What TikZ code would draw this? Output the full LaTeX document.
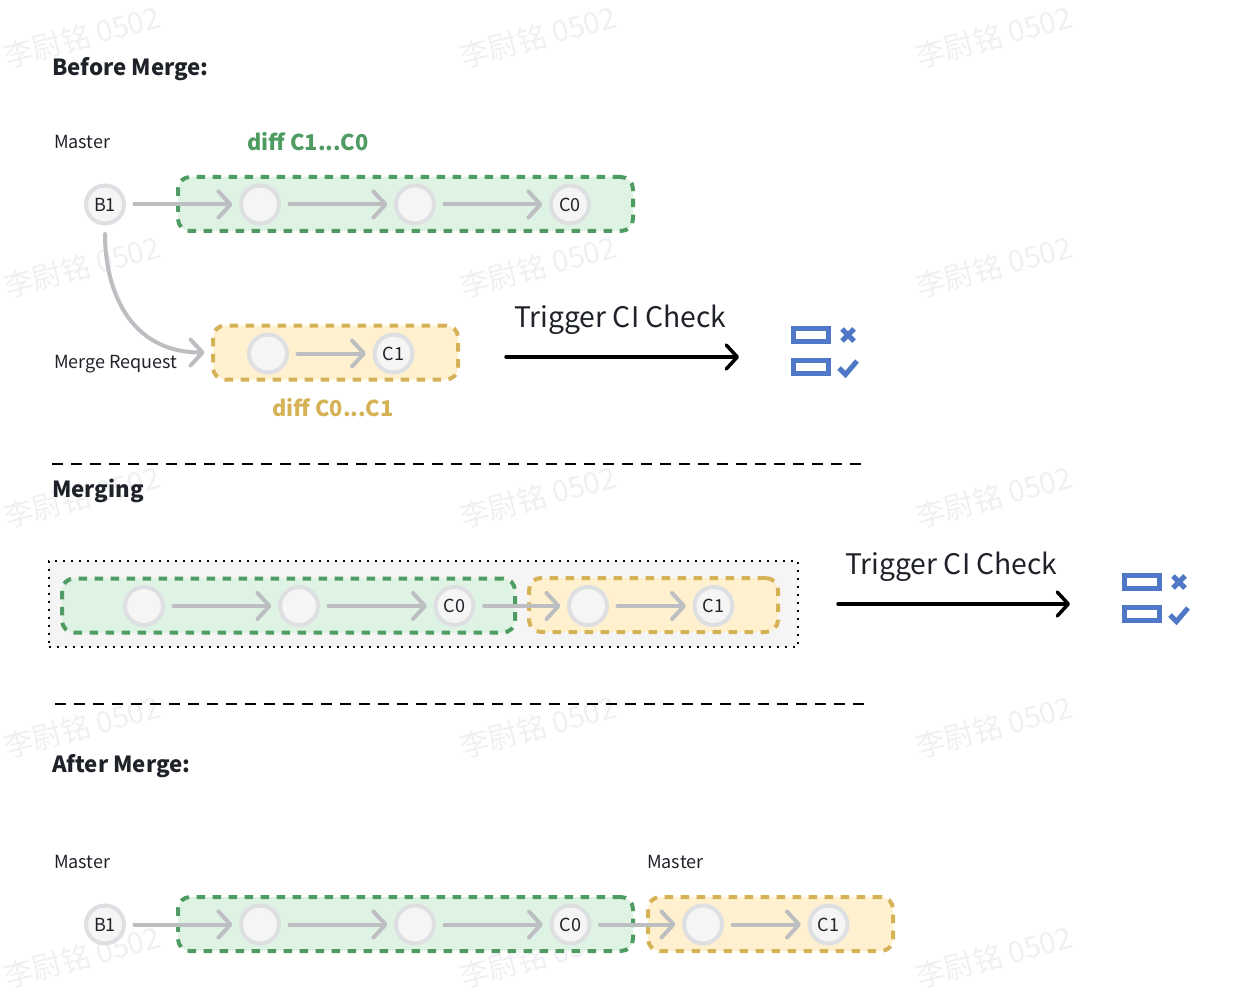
\documentclass[tikz,border=0pt]{standalone}
\usepackage{xcolor}
\usepackage{fontspec}
\setmainfont{Noto Sans CJK SC}
\usetikzlibrary{arrows.meta,positioning}
\definecolor{inkc}{HTML}{1F2329}
\definecolor{greenc}{HTML}{4F9C62}
\definecolor{greenf}{HTML}{DFF3E4}
\definecolor{yellowc}{HTML}{D6B257}
\definecolor{yellowf}{HTML}{FFF1CF}
\definecolor{ringc}{HTML}{DEDFE3}
\definecolor{flowc}{HTML}{BDBEC2}
\definecolor{iconc}{HTML}{4F78C6}
\definecolor{markc}{HTML}{EFF0F1}
\tikzset{
  commit/.style={circle,draw=ringc,fill=black!4,line width=4pt,minimum size=38pt,inner sep=0pt,text=inkc,font=\fontsize{18}{18}\selectfont},
  greenbox/.style={draw=greenc,fill=greenf,line width=4pt,rounded corners=12pt,dash pattern=on 8.5pt off 7.5pt,minimum height=54pt,inner sep=0pt},
  yellowbox/.style={draw=yellowc,fill=yellowf,line width=4pt,rounded corners=12pt,dash pattern=on 8.5pt off 7.5pt,minimum height=54pt,inner sep=0pt},
  flow/.style={draw=flowc,line width=4pt,line cap=round,shorten >=6.5pt,shorten <=8.5pt,-{Straight Barb[length=12pt,width=26pt,round]}},
  trigger/.style={draw=black,line width=3.5pt,line cap=round,-{Straight Barb[length=11pt,width=24pt,round]}},
  plain/.style={anchor=west,inner sep=0pt,text=inkc,font=\fontsize{18}{18}\selectfont},
  heading/.style={anchor=west,inner sep=0pt,text=inkc,font=\fontsize{22.2}{24}\selectfont\bfseries},
  difflabel/.style={inner sep=0pt,font=\fontsize{21.8}{24}\selectfont\bfseries},
  triggerlabel/.style={anchor=west,inner sep=0pt,text=inkc,font=\fontsize{28.3}{30}\selectfont},
  sepline/.style={draw=black,line width=2pt,dash pattern=on 11pt off 8pt},
  checkicon/.pic={
    \draw[iconc,line width=5pt] (-17.5,-22.5) rectangle (17.5,-9.5);
    \draw[iconc,line width=5pt] (-17.5,9.5) rectangle (17.5,22.5);
    \draw[iconc,line width=5pt] (31,-22) -- (43,-10) (31,-10) -- (43,-22);
    \draw[iconc,line width=5pt] (28,17) -- (34.5,23.5) -- (46,10);
  }
}
\begin{document}
\begin{tikzpicture}[x=1pt,y=-1pt]
  \useasboundingbox (0,0) rectangle (1244,1000);
  \foreach \wx in {82,538,994}
    \foreach \wy in {37,267,497,727,957}
      \node[rotate=15,text=markc,inner sep=0pt,font=\fontsize{29.5}{30}\selectfont] (mark\wx\wy) at (\wx,\wy) {李尉铭 0502}; %水印

  \node[heading] (before) at (52,69) {Before Merge:};
  \node[plain] (masterA) at (54,142.5) {Master};
  \node[difflabel,text=greenc] (diffA) at (308,142) {diff C1...C0};
  \node[greenbox,minimum width=455pt] (boxA) at (405.5,204) {};
  \node[commit] (bA) at (105,204.5) {B1};
  \node[commit] (aA) at (260,204.5) {};
  \node[commit] (aB) at (415,204.5) {};
  \node[commit] (aC) at (570,204.5) {C0};
  \draw[flow] (bA) -- (aA);
  \draw[flow] (aA) -- (aB);
  \draw[flow] (aB) -- (aC);

  \node[plain] (request) at (54,364) {Merge Request};
  \node[yellowbox,minimum width=245pt] (boxB) at (335.5,352.5) {};
  \node[commit] (bB) at (268,353.5) {};
  \node[commit] (bC) at (393.5,353.5) {C1};
  \node[difflabel,text=yellowc] (diffB) at (333,408) {diff C0...C1};
  \draw[flow] (bA.south) .. controls +(0,64) and +(-82,0) .. (boxB.west);
  \draw[flow] (bB) -- (bC);

  \node[triggerlabel] (triggerA) at (514,320) {Trigger CI Check};
  \coordinate (triggerAs) at (506,357);
  \coordinate (triggerAe) at (739,357);
  \draw[trigger] (triggerAs) -- (triggerAe);
  \pic at (811,351) {checkicon};

  \coordinate (sepAs) at (52,464);
  \coordinate (sepAe) at (862,464);
  \draw[sepline] (sepAs) -- (sepAe);
  \node[heading] (merging) at (52,491) {Merging};

  \node[draw=black,fill=black!4,line width=2pt,dash pattern=on 2pt off 6pt,minimum width=749pt,minimum height=86pt,inner sep=0pt] (queue) at (423.5,604) {};
  \node[greenbox,minimum width=453pt] (boxC) at (288.5,605.5) {};
  \node[yellowbox,minimum width=249pt] (boxD) at (653.5,605) {};
  \node[commit] (cA) at (144,606) {};
  \node[commit] (cB) at (299,606) {};
  \node[commit] (cC) at (454.5,606) {C0};
  \node[commit] (dA) at (588,606) {};
  \node[commit] (dB) at (713.5,606) {C1};
  \draw[flow] (cA) -- (cB);
  \draw[flow] (cB) -- (cC);
  \draw[flow] (cC) -- (dA);
  \draw[flow] (dA) -- (dB);

  \node[triggerlabel] (triggerB) at (845,567) {Trigger CI Check};
  \coordinate (triggerBs) at (838,604);
  \coordinate (triggerBe) at (1070,604);
  \draw[trigger] (triggerBs) -- (triggerBe);
  \pic at (1142,598) {checkicon};

  \coordinate (sepBs) at (55,704);
  \coordinate (sepBe) at (865,704);
  \draw[sepline] (sepBs) -- (sepBe);
  \node[heading] (after) at (52,766) {After Merge:};

  \node[plain] (masterB) at (54,862.5) {Master};
  \node[plain] (masterC) at (647,862.5) {Master};
  \node[greenbox,minimum width=455pt] (boxE) at (405.5,924) {};
  \node[yellowbox,minimum width=245pt] (boxF) at (770.5,924) {};
  \node[commit] (eA) at (105,924.5) {B1};
  \node[commit] (eB) at (260,924.5) {};
  \node[commit] (eC) at (415,924.5) {};
  \node[commit] (eD) at (570.5,924.5) {C0};
  \node[commit] (fA) at (703,924.5) {};
  \node[commit] (fB) at (828.5,924.5) {C1};
  \draw[flow] (eA) -- (eB);
  \draw[flow] (eB) -- (eC);
  \draw[flow] (eC) -- (eD);
  \draw[flow] (eD) -- (fA);
  \draw[flow] (fA) -- (fB);
\end{tikzpicture}
\end{document}
